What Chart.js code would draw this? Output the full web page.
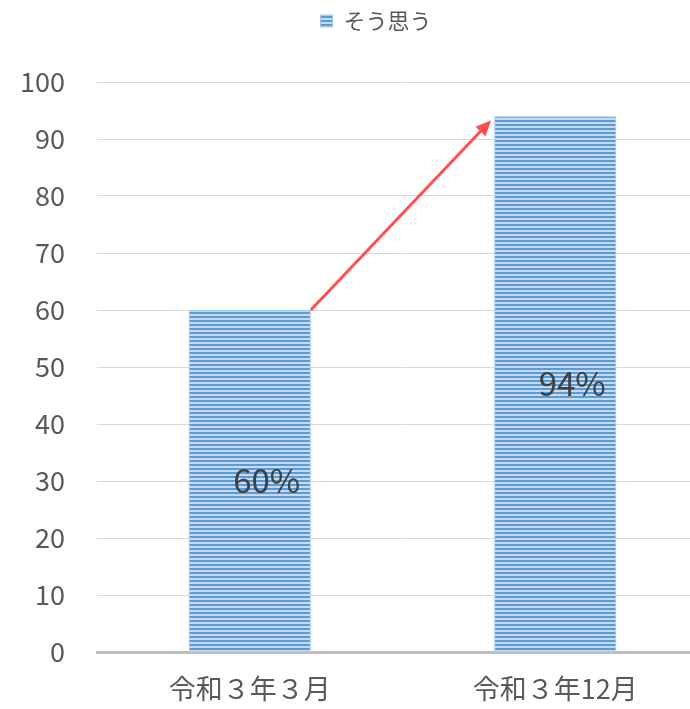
<!DOCTYPE html>
<html>
<head>
<meta charset="utf-8">
<script src="https://cdn.jsdelivr.net/npm/chart.js@4"></script>
<style>
  html, body { margin: 0; padding: 0; background: #fff; overflow: hidden; }
  #wrap { width: 708px; height: 709px; }
</style>
</head>
<body>
<div id="wrap"><canvas id="chart"></canvas></div>
<script>
const labels = ["令和３年３月", "令和３年12月"];
const values = [60, 94];
const seriesName = "そう思う";
const yTicks = [0, 10, 20, 30, 40, 50, 60, 70, 80, 90, 100];

const font = "'Noto Sans CJK JP', 'Noto Sans', sans-serif";

function stripes() {
  const c = document.createElement("canvas");
  c.width = 4;
  c.height = 4;
  const g = c.getContext("2d");
  g.fillStyle = "#c6daf0";
  g.fillRect(0, 0, 4, 4);
  g.fillStyle = "#5b9bd5";
  g.fillRect(0, 0, 4, 2);
  return g.createPattern(c, "repeat");
}

// red arrow from top of first bar to top of second bar
const arrowPlugin = {
  id: "arrow",
  afterDatasetsDraw(chart) {
    const bars = chart.getDatasetMeta(0).data;
    if (bars.length < 2) return;
    const a = bars[0], b = bars[1];
    const x1 = a.x + a.width / 2, y1 = a.y;
    const x2 = b.x - b.width / 2 - 3, y2 = b.y + 4;
    const ctx = chart.ctx;
    const ang = Math.atan2(y2 - y1, x2 - x1);
    const head = 17;
    ctx.save();
    ctx.strokeStyle = "#ff4f4f";
    ctx.fillStyle = "#ff4f4f";
    ctx.lineWidth = 3;
    ctx.beginPath();
    ctx.moveTo(x1, y1);
    ctx.lineTo(x2 - Math.cos(ang) * head * 0.8, y2 - Math.sin(ang) * head * 0.8);
    ctx.stroke();
    ctx.beginPath();
    ctx.moveTo(x2, y2);
    ctx.lineTo(x2 - head * Math.cos(ang - 0.42), y2 - head * Math.sin(ang - 0.42));
    ctx.lineTo(x2 - head * Math.cos(ang + 0.42), y2 - head * Math.sin(ang + 0.42));
    ctx.closePath();
    ctx.fill();
    ctx.restore();
  },
};

// percentage labels inside the bars
const valueLabels = {
  id: "valueLabels",
  afterDatasetsDraw(chart) {
    const ctx = chart.ctx;
    const meta = chart.getDatasetMeta(0);
    ctx.save();
    ctx.font = "33px " + font;
    ctx.fillStyle = "#404040";
    ctx.textAlign = "center";
    ctx.textBaseline = "middle";
    meta.data.forEach((bar, i) => {
      const mid = (bar.y + bar.base) / 2;
      ctx.fillText(values[i] + "%", bar.x + 17, mid);
    });
    ctx.restore();
  },
};

// leave more room under the legend, and nudge it right
const legendGap = {
  id: "legendGap",
  beforeInit(chart) {
    const fit = chart.legend.fit;
    chart.legend.fit = function () {
      fit.bind(chart.legend)();
      this.height += 40;
    };
  },
  afterLayout(chart) {
    chart.legend.left += 13;
    chart.legend.right += 13;
  },
};

const pattern = stripes();

new Chart(document.getElementById("chart"), {
  type: "bar",
  data: {
    labels: labels,
    datasets: [
      {
        label: seriesName,
        data: values,
        backgroundColor: pattern,
        borderColor: "#9dc3e6",
        borderWidth: 1,
        barPercentage: 0.4,
        categoryPercentage: 1,
      },
    ],
  },
  options: {
    responsive: true,
    maintainAspectRatio: false,
    animation: false,
    layout: { padding: { top: 0, left: 18, right: 0, bottom: 0 } },
    scales: {
      y: {
        min: 0,
        max: 100,
        afterBuildTicks: (scale) => {
          scale.ticks = yTicks.map((v) => ({ value: v }));
        },
        afterFit: (scale) => {
          scale.width = 79;
        },
        border: { display: false },
        grid: { color: "#d9d9d9", lineWidth: 1, drawTicks: false },
        ticks: {
          padding: 32,
          color: "#595959",
          font: { family: font, size: 27 },
        },
      },
      x: {
        afterFit: (scale) => {
          scale.height = 57;
        },
        border: { display: true, color: "#bfbfbf", width: 3 },
        grid: { display: false, drawTicks: false },
        ticks: {
          padding: 21,
          color: "#595959",
          font: { family: font, size: 27 },
        },
      },
    },
    plugins: {
      legend: {
        labels: {
          boxWidth: 12,
          boxHeight: 12,
          color: "#595959",
          font: { family: font, size: 22 },
          padding: 10,
        },
        onClick: null,
      },
      tooltip: { enabled: false },
    },
  },
  plugins: [arrowPlugin, valueLabels, legendGap],
});
</script>
</body>
</html>
